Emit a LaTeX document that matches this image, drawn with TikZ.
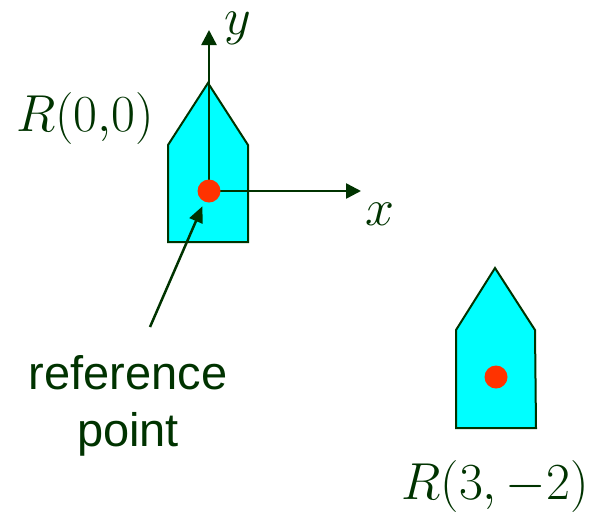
\RequirePackage{fix-cm}
\documentclass[tikz,border=0pt]{standalone}
\usepackage{fontspec}
\setsansfont{Liberation Sans}
\usetikzlibrary{arrows.meta}

\definecolor{darkgreen}{RGB}{0,51,0}
\definecolor{boatcyan}{RGB}{0,255,255}
\definecolor{dotred}{RGB}{255,51,0}

\begin{document}
\begin{tikzpicture}[x=1pt, y=-1pt]
    \tikzstyle{boat} = [draw=darkgreen, line width=2pt, fill=boatcyan]
    \tikzstyle{refdot} = [circle, fill=dotred, minimum size=23pt, inner sep=0pt]
    \tikzstyle{axis} = [draw=darkgreen, line width=2.5pt, -{Triangle[length=15pt,width=15pt]}]
    \tikzstyle{pointer} = [draw=darkgreen, line width=2.5pt, -{Triangle[length=16pt,width=14pt]}, shorten >=5pt]
    \tikzstyle{mathlabel} = [text=darkgreen, font=\fontsize{52}{58}\selectfont, inner sep=0pt]
    \tikzstyle{textlabel} = [text=darkgreen, font=\sffamily\fontsize{47}{57}\selectfont, align=center, inner sep=0pt]

    \useasboundingbox (0,0) rectangle (594,515);

    % robot at the origin
    \draw [boat] (168,145) -- (208,83) -- (248,145) -- (248,242) -- (168,242) -- cycle;
    \coordinate (originA) at (209,191);
    \coordinate (ytip) at (209,30);
    \coordinate (xtip) at (361,191);
    \draw [axis] (originA) -- (ytip);
    \draw [axis] (originA) -- (xtip);
    \node (refA) [refdot] at (originA) {};

    \node (ylab) [mathlabel] at (238,28) {$y$};
    \node (xlab) [mathlabel] at (380,214) {$x$};
    \node (labA) [mathlabel] at (85,118) {$R(0{,}0)$};

    % robot at (3,-2)
    \draw [boat] (456,330) -- (495,268) -- (535,330) -- (536,428) -- (456,428) -- cycle;
    \node (refB) [refdot] at (496,377) {};
    \node (labB) [mathlabel] at (495,486) {$R(3,-2)$};

    % reference point label
    \node (reflabel) [textlabel] at (128,406) {reference\\point};
    \coordinate (ptrstart) at (150,327);
    \draw [pointer] (ptrstart) -- (refA);
\end{tikzpicture}
\end{document}
